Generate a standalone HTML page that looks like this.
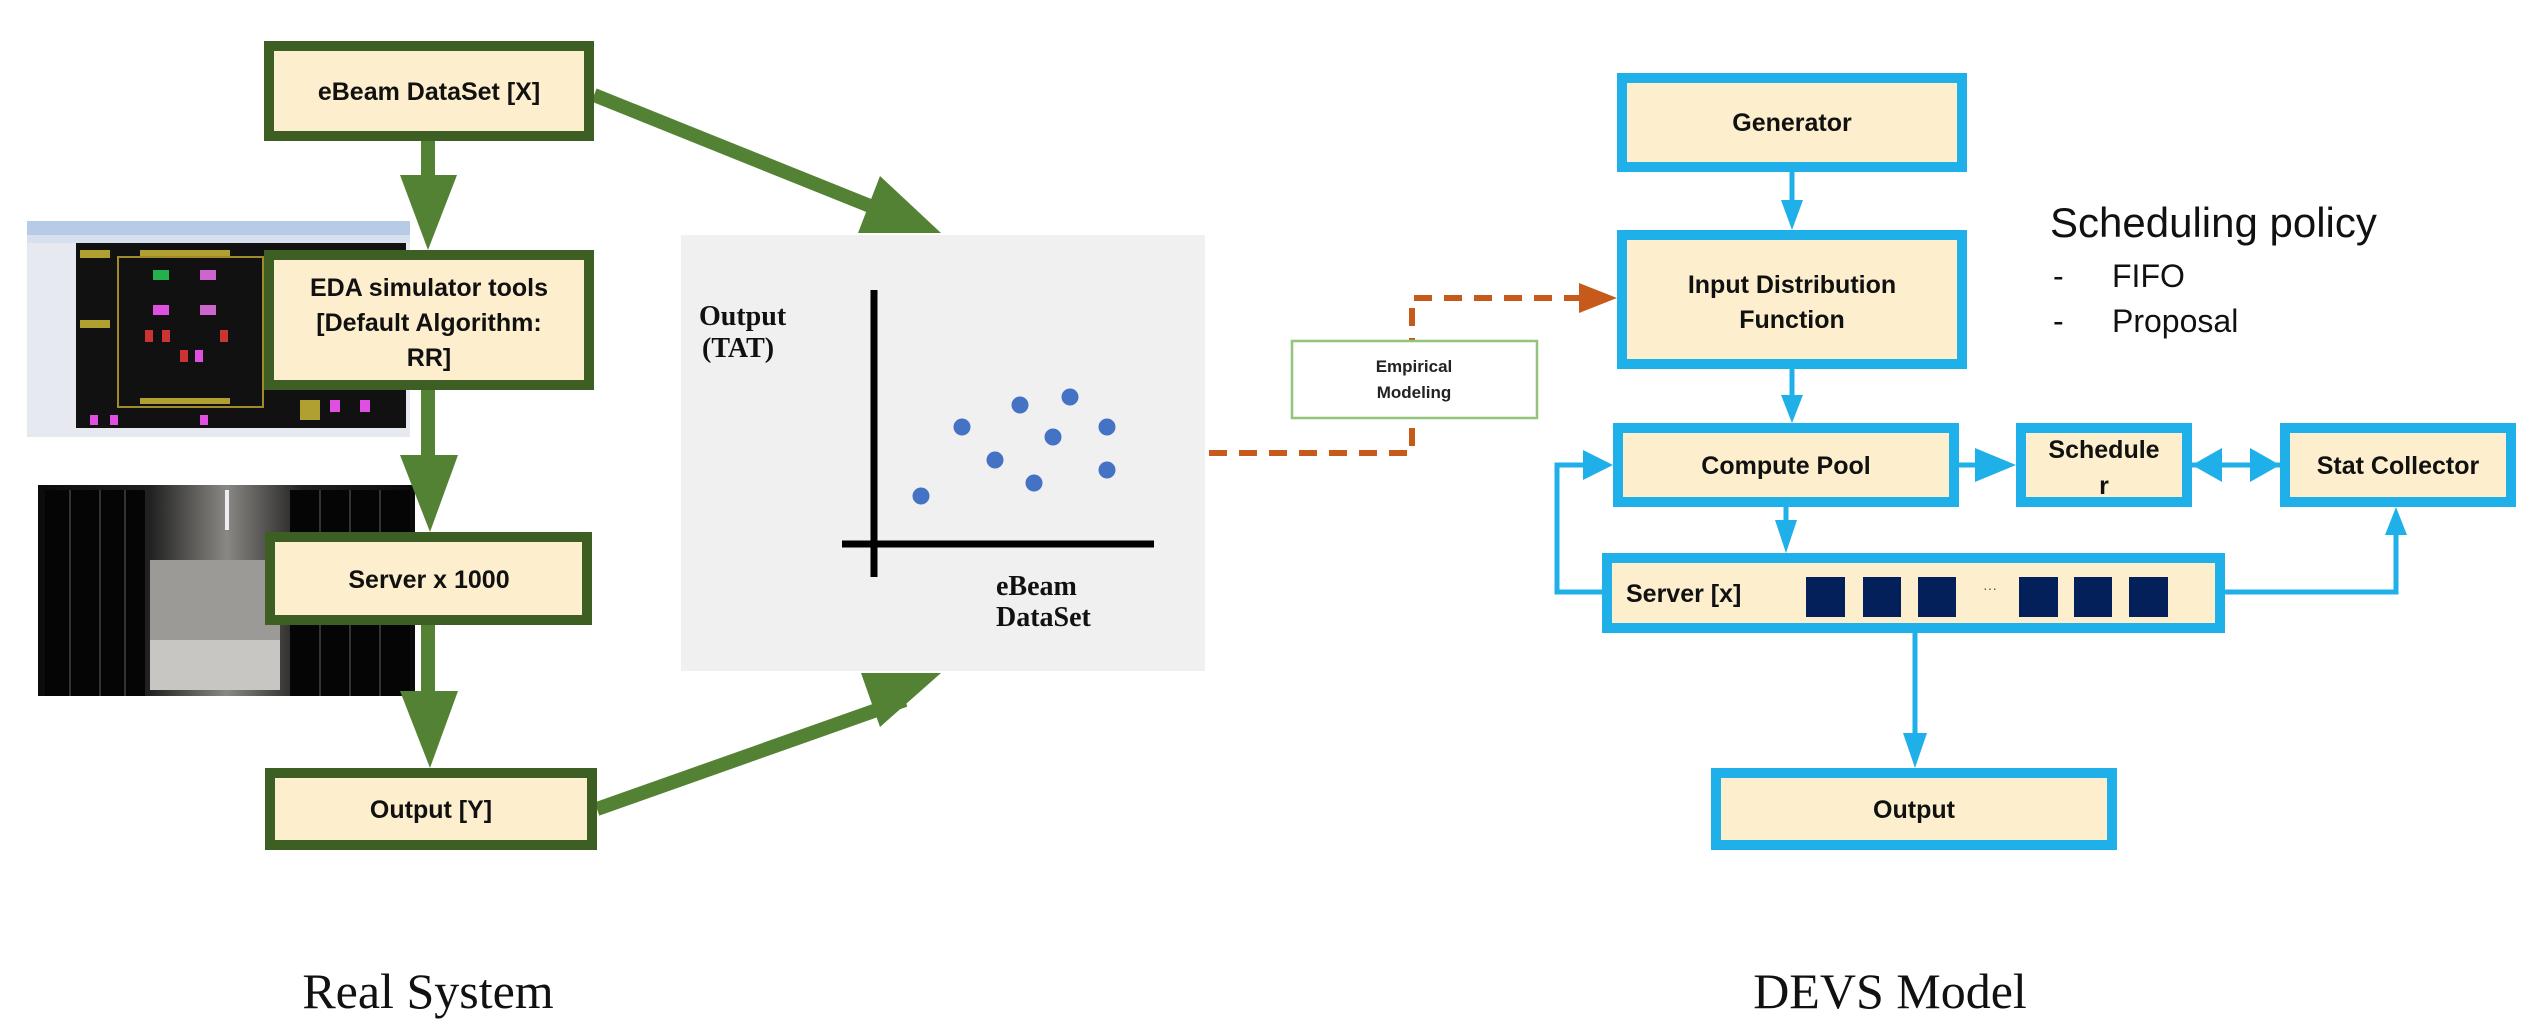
<!DOCTYPE html>
<html><head><meta charset="utf-8"><style>
html,body{margin:0;padding:0;background:#fff;}
svg{display:block;}
.b{font-family:"Liberation Sans",sans-serif;font-weight:bold;font-size:25px;fill:#111;text-anchor:middle;}
.s{font-family:"Liberation Serif",serif;font-weight:bold;fill:#111;}
</style></head><body>
<svg width="2543" height="1024" viewBox="0 0 2543 1024" xmlns="http://www.w3.org/2000/svg">
<!-- EDA screenshot -->
<rect x="27" y="221" width="383" height="216" fill="#e6eaf0"/>
<rect x="27" y="221" width="383" height="14" fill="#b8cbe6"/>
<rect x="27" y="235" width="383" height="8" fill="#d6e0ee"/>
<rect x="76" y="243" width="330" height="185" fill="#111"/>
<rect x="118" y="257" width="145" height="150" fill="none" stroke="#a08a2a" stroke-width="2"/>
<rect x="153" y="270" width="16" height="10" fill="#22b14c"/>
<rect x="200" y="270" width="16" height="10" fill="#cc66cc"/>
<rect x="153" y="305" width="16" height="10" fill="#e050e0"/>
<rect x="200" y="305" width="16" height="10" fill="#cc66cc"/>
<g fill="#cc3333"><rect x="145" y="330" width="8" height="12"/><rect x="162" y="330" width="8" height="12"/><rect x="180" y="350" width="8" height="12"/><rect x="220" y="330" width="8" height="12"/></g>
<g fill="#e050e0"><rect x="195" y="350" width="8" height="12"/><rect x="330" y="400" width="10" height="12"/><rect x="360" y="400" width="10" height="12"/><rect x="90" y="415" width="8" height="10"/><rect x="110" y="415" width="8" height="10"/><rect x="200" y="415" width="8" height="10"/></g>
<g fill="#b0a030"><rect x="80" y="250" width="30" height="8"/><rect x="140" y="250" width="90" height="6"/><rect x="140" y="398" width="90" height="6"/><rect x="80" y="320" width="30" height="8"/><rect x="300" y="400" width="20" height="20"/></g>
<!-- server room -->
<defs><linearGradient id="sr" x1="0" x2="1"><stop offset="0" stop-color="#0b0b0d"/><stop offset="0.3" stop-color="#222"/><stop offset="0.5" stop-color="#8a8884"/><stop offset="0.7" stop-color="#222"/><stop offset="1" stop-color="#0b0b0d"/></linearGradient></defs>
<rect x="38" y="485" width="377" height="211" fill="url(#sr)"/>
<rect x="150" y="560" width="130" height="130" fill="#9c9a96"/>
<rect x="150" y="640" width="130" height="50" fill="#c8c6c2"/>
<g fill="#050505"><rect x="45" y="490" width="100" height="206"/><rect x="290" y="490" width="120" height="206"/></g>
<g stroke="#333" stroke-width="2"><line x1="70" y1="490" x2="70" y2="696"/><line x1="100" y1="490" x2="100" y2="696"/><line x1="125" y1="490" x2="125" y2="696"/><line x1="320" y1="490" x2="320" y2="696"/><line x1="350" y1="490" x2="350" y2="696"/><line x1="380" y1="490" x2="380" y2="696"/></g>
<rect x="225" y="490" width="4" height="40" fill="#eee"/>

<!-- green arrows -->
<g fill="#548235" stroke="none">
<rect x="421" y="141" width="14" height="40"/><polygon points="400,175 457,175 428,250"/>
<rect x="421" y="390" width="14" height="70"/><polygon points="400,455 458,455 430,532"/>
<rect x="421" y="625" width="14" height="70"/><polygon points="400,691 458,691 430,768"/>
</g>
<line x1="594" y1="95" x2="895" y2="216" stroke="#548235" stroke-width="14"/>
<polygon points="880,176 941,233 858,233" fill="#548235"/>
<line x1="597" y1="809" x2="905" y2="700" stroke="#548235" stroke-width="14"/>
<polygon points="861,673 941,673 880,727" fill="#548235"/>

<!-- green boxes -->
<g fill="#fdefcd" stroke="#3e5f24" stroke-width="10">
<rect x="269" y="46" width="320" height="90"/>
<rect x="269" y="255" width="320" height="130"/>
<rect x="270" y="537" width="317" height="83"/>
<rect x="270" y="773" width="322" height="72"/>
</g>
<text class="b" x="429" y="100">eBeam DataSet [X]</text>
<text class="b" x="429" y="296">EDA simulator tools</text>
<text class="b" x="429" y="331">[Default Algorithm:</text>
<text class="b" x="429" y="366">RR]</text>
<text class="b" x="429" y="588">Server x 1000</text>
<text class="b" x="431" y="818">Output [Y]</text>

<!-- chart panel -->
<rect x="681" y="235" width="524" height="436" fill="#f0f0f0"/>
<line x1="874" y1="290" x2="874" y2="577" stroke="#000" stroke-width="7"/>
<line x1="842" y1="544" x2="1154" y2="544" stroke="#000" stroke-width="7"/>
<g fill="#4472c4">
<circle cx="921" cy="496" r="8.5"/><circle cx="962" cy="427" r="8.5"/><circle cx="995" cy="460" r="8.5"/><circle cx="1020" cy="405" r="8.5"/><circle cx="1034" cy="483" r="8.5"/><circle cx="1053" cy="437" r="8.5"/><circle cx="1070" cy="397" r="8.5"/><circle cx="1107" cy="427" r="8.5"/><circle cx="1107" cy="470" r="8.5"/>
</g>
<text class="s" x="699" y="325" font-size="28">Output</text>
<text class="s" x="702" y="357" font-size="28">(TAT)</text>
<text class="s" x="996" y="595" font-size="28">eBeam</text>
<text class="s" x="996" y="626" font-size="28">DataSet</text>

<!-- orange dashed -->
<g stroke="#c55a1a" stroke-width="6" fill="none" stroke-dasharray="18,12">
<polyline points="1209,453 1412,453 1412,298 1585,298"/>
</g>
<polygon points="1579,283 1617,298 1579,313" fill="#c55a1a"/>
<rect x="1292" y="341" width="245" height="77" fill="#fff" stroke="#93c47d" stroke-width="2.5"/>
<text x="1414" y="372" font-family="Liberation Sans,sans-serif" font-weight="bold" font-size="17" text-anchor="middle" fill="#222">Empirical</text>
<text x="1414" y="398" font-family="Liberation Sans,sans-serif" font-weight="bold" font-size="17" text-anchor="middle" fill="#222">Modeling</text>

<!-- blue connectors -->
<g stroke="#1fb0ea" stroke-width="5" fill="none">
<line x1="1792" y1="172" x2="1792" y2="205"/>
<line x1="1792" y1="369" x2="1792" y2="400"/>
<line x1="1786" y1="507" x2="1786" y2="530"/>
<polyline points="1602,592 1557,592 1557,465 1590,465"/>
<polyline points="2225,592 2396,592 2396,530"/>
<line x1="1915" y1="633" x2="1915" y2="745"/>
<line x1="1959" y1="465" x2="1990" y2="465"/>
<line x1="2192" y1="465" x2="2280" y2="465"/>
</g>
<g fill="#1fb0ea">
<polygon points="1781,200 1803,200 1792,230"/>
<polygon points="1781,395 1803,395 1792,423"/>
<polygon points="1775,520 1797,520 1786,553"/>
<polygon points="1583,450 1613,465 1583,480"/>
<polygon points="2385,535 2407,535 2396,507"/>
<polygon points="1903,733 1927,733 1915,768"/>
<polygon points="1975,448 2016,465 1975,482"/>
<polygon points="2192,465 2222,448 2222,482"/>
<polygon points="2280,465 2250,448 2250,482"/>
</g>
<!-- blue boxes -->
<g fill="#fdefcd" stroke="#1fb0ea" stroke-width="10">
<rect x="1622" y="78" width="340" height="89"/>
<rect x="1622" y="235" width="340" height="129"/>
<rect x="1618" y="428" width="336" height="74"/>
<rect x="2021" y="428" width="166" height="74"/>
<rect x="2285" y="428" width="226" height="74"/>
<rect x="1607" y="558" width="613" height="70"/>
<rect x="1716" y="773" width="396" height="72"/>
</g>
<text class="b" x="1792" y="131">Generator</text>
<text class="b" x="1792" y="293">Input Distribution</text>
<text class="b" x="1792" y="328">Function</text>
<text class="b" x="1786" y="474">Compute Pool</text>
<text class="b" x="2104" y="458">Schedule</text>
<text class="b" x="2104" y="494">r</text>
<text class="b" x="2398" y="474">Stat Collector</text>
<text class="b" x="1626" y="602" style="text-anchor:start">Server [x]</text>
<g fill="#03205a">
<rect x="1806" y="577" width="39" height="40"/><rect x="1863" y="577" width="38" height="40"/><rect x="1918" y="577" width="38" height="40"/>
<rect x="2019" y="577" width="39" height="40"/><rect x="2074" y="577" width="38" height="40"/><rect x="2129" y="577" width="39" height="40"/>
</g>
<text x="1990" y="593" font-family="Liberation Sans,sans-serif" font-size="14" text-anchor="middle" fill="#555">···</text>
<text class="b" x="1914" y="818">Output</text>

<!-- scheduling policy -->
<text x="2050" y="237" font-family="Liberation Sans,sans-serif" font-size="42" fill="#111">Scheduling policy</text>
<text x="2053" y="287" font-family="Liberation Sans,sans-serif" font-size="32" fill="#111">-</text>
<text x="2112" y="287" font-family="Liberation Sans,sans-serif" font-size="32" fill="#111">FIFO</text>
<text x="2053" y="332" font-family="Liberation Sans,sans-serif" font-size="32" fill="#111">-</text>
<text x="2112" y="332" font-family="Liberation Sans,sans-serif" font-size="32" fill="#111">Proposal</text>

<!-- titles -->
<text x="428" y="1008" font-family="Liberation Serif,serif" font-size="50" text-anchor="middle" fill="#111">Real System</text>
<text x="1890" y="1008" font-family="Liberation Serif,serif" font-size="50" text-anchor="middle" fill="#111">DEVS Model</text>
</svg>
</body></html>
